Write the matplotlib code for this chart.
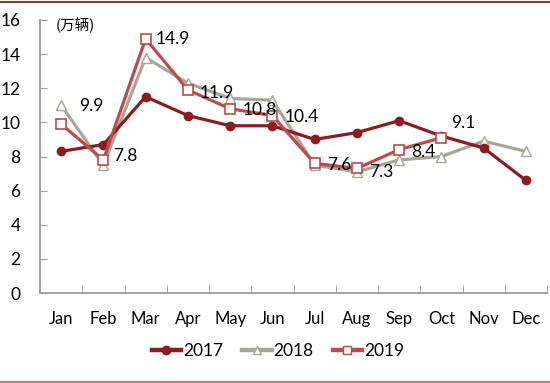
import matplotlib.pyplot as plt
from matplotlib.lines import Line2D

plt.rcParams['font.family'] = ['Lato', 'Noto Sans CJK SC', 'DejaVu Sans']

months = ['Jan', 'Feb', 'Mar', 'Apr', 'May', 'Jun', 'Jul', 'Aug', 'Sep', 'Oct', 'Nov', 'Dec']
v2017 = [8.3, 8.7, 11.5, 10.4, 9.8, 9.8, 9.0, 9.4, 10.1, 9.2, 8.5, 6.6]
v2018 = [11.0, 7.5, 13.8, 12.3, 11.4, 11.3, 7.5, 7.1, 7.8, 8.0, 8.9, 8.3]
v2019 = [9.9, 7.8, 14.9, 11.9, 10.8, 10.4, 7.6, 7.3, 8.4, 9.1]
# label offsets in pixels for the 2019 values
lab_off = [(18, 18), (10, 4), (10, 0), (12, -3), (13, -1), (12, -1), (12, -2), (12, -4), (12, -2), (10, 15)]

c17 = '#8b1c20'
c18 = '#a6a699'
c19 = '#bd4b4b'

fig = plt.figure(figsize=(5.5, 3.83), dpi=100)
ax = fig.add_axes([40/550, 90/383, 507/550, 273/383])

x = list(range(len(months)))
ax.plot(x, v2017, color=c17, lw=2.3, marker='o', ms=6, label='2017', zorder=3)
ax.plot(x, v2018, color=c18, lw=2.3, marker='^', ms=7, mfc='white', mec=c18, label='2018', zorder=2)
ax.plot(x[:len(v2019)], v2019, color=c19, lw=2.3, marker='s', ms=6.5, mfc='white', mec=c19,
        mew=1.2, label='2019', zorder=4)

for i, v in enumerate(v2019):
    ax.annotate(f'{v:.1f}', (i, v), xytext=lab_off[i], textcoords='offset pixels',
                ha='left', va='center', fontsize=12.5, color='black', zorder=5)

ax.set_xlim(-0.5, 11.5)
ax.set_ylim(0, 16)
ax.set_yticks(range(0, 17, 2))
ax.set_xticks(x)
ax.set_xticklabels(months)
ax.set_xticks([i + 0.5 for i in range(-1, 12)], minor=True)
ax.tick_params(axis='x', which='major', length=0, pad=13, labelsize=12)
ax.tick_params(axis='x', which='minor', length=6, direction='in', color='#999999')
ax.tick_params(axis='y', length=5, direction='in', color='#999999', labelsize=12.5, pad=14)
for s in ['top', 'right']:
    ax.spines[s].set_visible(False)
for s in ['left', 'bottom']:
    ax.spines[s].set_color('#999999')
    ax.spines[s].set_linewidth(1.3)

ax.text(0.03, 0.98, '(万辆)', transform=ax.transAxes, fontsize=10.5, ha='left', va='center',
        family=['Noto Sans CJK SC', 'DejaVu Sans'])

handles = [Line2D([], [], color=c17, lw=3.2, marker='o', ms=6),
           Line2D([], [], color=c18, lw=3.2, marker='^', ms=6, mfc='white'),
           Line2D([], [], color=c19, lw=3.2, marker='s', ms=6, mfc='white')]
fig.legend(handles, ['2017', '2018', '2019'], loc='center', bbox_to_anchor=(0.505, 1 - 351/383),
           ncol=3, frameon=False, fontsize=12.5, handlelength=1.7, handletextpad=0.1, columnspacing=1.1)

fig.add_artist(Line2D([0, 1], [1 - 1.5/383, 1 - 1.5/383], transform=fig.transFigure, color='#8b3a3a', lw=1.5))
fig.add_artist(Line2D([0, 1], [1.5/383, 1.5/383], transform=fig.transFigure, color='#a86464', lw=1.2))

fig.savefig('out.png', dpi=100)
